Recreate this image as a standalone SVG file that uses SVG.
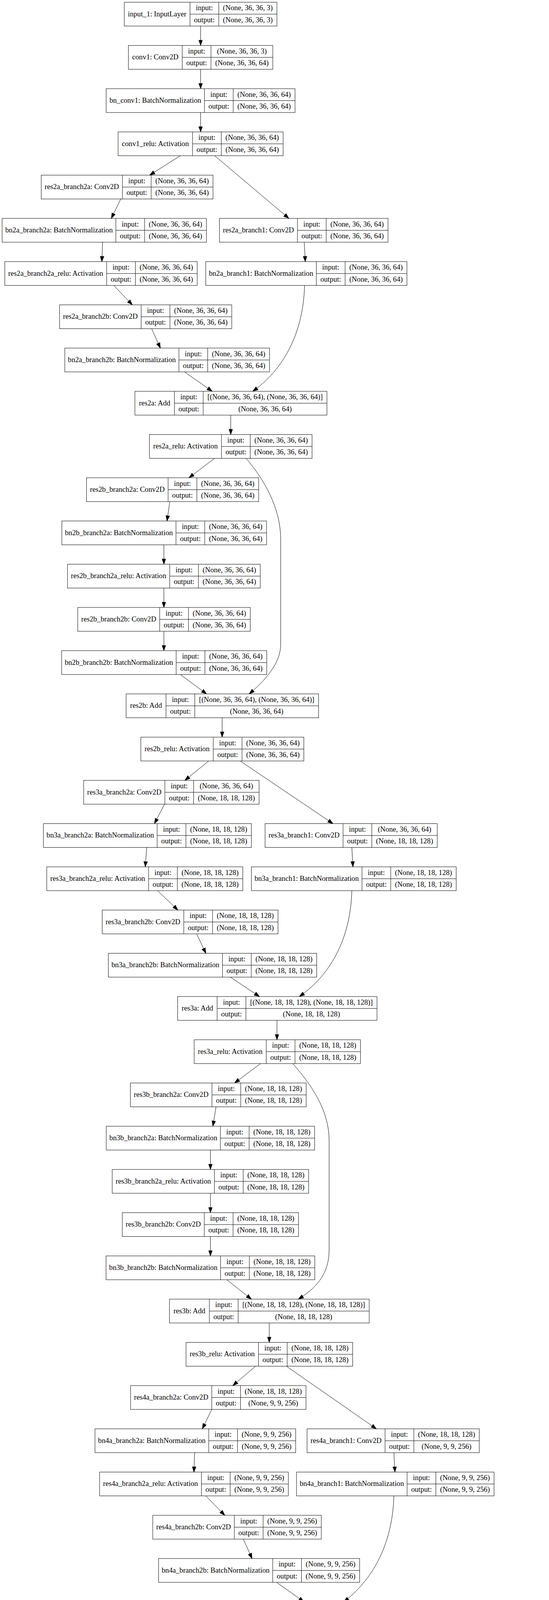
<svg xmlns="http://www.w3.org/2000/svg" width="1405" height="6824" viewBox="0 0 1405 6824">
<style>
.node rect{fill:#fff;stroke:#000;stroke-width:1}
.node path{fill:none;stroke:#000;stroke-width:1}
text{font-family:"Liberation Serif","Times New Roman",serif;font-size:18.67px;text-anchor:middle;fill:#000}
.edges path{fill:none;stroke:#000;stroke-width:1;marker-end:url(#arr)}
</style>
<defs>
<marker id="arr" markerUnits="userSpaceOnUse" markerWidth="16" markerHeight="12" refX="13.33" refY="4.67" orient="auto" overflow="visible"><path d="M0,0L13.33,4.67L0,9.33Z" fill="#000" stroke="#000" stroke-width="1"/></marker>
</defs>
<rect width="1405" height="6824" fill="#fff"/>
<g id="nodes">
<g id="input_1" class="node" transform="translate(318.05,5.7)"><rect width="390.7" height="61"/><path d="M168.2,0V61M241.8,0V61M168.2,30.5H390.7"/><text x="84.1" y="36">input_1: InputLayer</text><text x="205" y="20.5">input:</text><text x="205" y="51">output:</text><text x="316.25" y="20.5">(None, 36, 36, 3)</text><text x="316.25" y="51">(None, 36, 36, 3)</text></g>
<g id="conv1" class="node" transform="translate(328.65,116.37)"><rect width="369.5" height="61"/><path d="M137.7,0V61M211.3,0V61M137.7,30.5H369.5"/><text x="68.85" y="36">conv1: Conv2D</text><text x="174.5" y="20.5">input:</text><text x="174.5" y="51">output:</text><text x="290.4" y="20.5">(None, 36, 36, 3)</text><text x="290.4" y="51">(None, 36, 36, 64)</text></g>
<g id="bn_conv1" class="node" transform="translate(271.75,227.04)"><rect width="483.3" height="61"/><path d="M251.5,0V61M325.1,0V61M251.5,30.5H483.3"/><text x="125.75" y="36">bn_conv1: BatchNormalization</text><text x="288.3" y="20.5">input:</text><text x="288.3" y="51">output:</text><text x="404.2" y="20.5">(None, 36, 36, 64)</text><text x="404.2" y="51">(None, 36, 36, 64)</text></g>
<g id="conv1_relu" class="node" transform="translate(302.25,337.71)"><rect width="422.3" height="61"/><path d="M190.5,0V61M264.1,0V61M190.5,30.5H422.3"/><text x="95.25" y="36">conv1_relu: Activation</text><text x="227.3" y="20.5">input:</text><text x="227.3" y="51">output:</text><text x="343.2" y="20.5">(None, 36, 36, 64)</text><text x="343.2" y="51">(None, 36, 36, 64)</text></g>
<g id="res2a_branch2a" class="node" transform="translate(105.5,448.38)"><rect width="439.6" height="61"/><path d="M207.8,0V61M281.4,0V61M207.8,30.5H439.6"/><text x="103.9" y="36">res2a_branch2a: Conv2D</text><text x="244.6" y="20.5">input:</text><text x="244.6" y="51">output:</text><text x="360.5" y="20.5">(None, 36, 36, 64)</text><text x="360.5" y="51">(None, 36, 36, 64)</text></g>
<g id="bn2a_branch2a" class="node" transform="translate(5.4,559.05)"><rect width="522.9" height="61"/><path d="M291.1,0V61M364.7,0V61M291.1,30.5H522.9"/><text x="145.55" y="36">bn2a_branch2a: BatchNormalization</text><text x="327.9" y="20.5">input:</text><text x="327.9" y="51">output:</text><text x="443.8" y="20.5">(None, 36, 36, 64)</text><text x="443.8" y="51">(None, 36, 36, 64)</text></g>
<g id="res2a_branch1" class="node" transform="translate(561.6,559.05)"><rect width="431.4" height="61"/><path d="M199.6,0V61M273.2,0V61M199.6,30.5H431.4"/><text x="99.8" y="36">res2a_branch1: Conv2D</text><text x="236.4" y="20.5">input:</text><text x="236.4" y="51">output:</text><text x="352.3" y="20.5">(None, 36, 36, 64)</text><text x="352.3" y="51">(None, 36, 36, 64)</text></g>
<g id="res2a_branch2a_relu" class="node" transform="translate(12.3,669.72)"><rect width="492.4" height="61"/><path d="M260.6,0V61M334.2,0V61M260.6,30.5H492.4"/><text x="130.3" y="36">res2a_branch2a_relu: Activation</text><text x="297.4" y="20.5">input:</text><text x="297.4" y="51">output:</text><text x="413.3" y="20.5">(None, 36, 36, 64)</text><text x="413.3" y="51">(None, 36, 36, 64)</text></g>
<g id="bn2a_branch1" class="node" transform="translate(526.6,669.72)"><rect width="514.8" height="61"/><path d="M283,0V61M356.6,0V61M283,30.5H514.8"/><text x="141.5" y="36">bn2a_branch1: BatchNormalization</text><text x="319.8" y="20.5">input:</text><text x="319.8" y="51">output:</text><text x="435.7" y="20.5">(None, 36, 36, 64)</text><text x="435.7" y="51">(None, 36, 36, 64)</text></g>
<g id="res2a_branch2b" class="node" transform="translate(152.5,780.39)"><rect width="440.6" height="61"/><path d="M208.8,0V61M282.4,0V61M208.8,30.5H440.6"/><text x="104.4" y="36">res2a_branch2b: Conv2D</text><text x="245.6" y="20.5">input:</text><text x="245.6" y="51">output:</text><text x="361.5" y="20.5">(None, 36, 36, 64)</text><text x="361.5" y="51">(None, 36, 36, 64)</text></g>
<g id="bn2a_branch2b" class="node" transform="translate(165.85,891.06)"><rect width="523.9" height="61"/><path d="M292.1,0V61M365.7,0V61M292.1,30.5H523.9"/><text x="146.05" y="36">bn2a_branch2b: BatchNormalization</text><text x="328.9" y="20.5">input:</text><text x="328.9" y="51">output:</text><text x="444.8" y="20.5">(None, 36, 36, 64)</text><text x="444.8" y="51">(None, 36, 36, 64)</text></g>
<g id="res2a" class="node" transform="translate(345.25,1001.73)"><rect width="491.5" height="61"/><path d="M101.1,0V61M174.7,0V61M101.1,30.5H491.5"/><text x="50.55" y="36">res2a: Add</text><text x="137.9" y="20.5">input:</text><text x="137.9" y="51">output:</text><text x="333.1" y="20.5">[(None, 36, 36, 64), (None, 36, 36, 64)]</text><text x="333.1" y="51">(None, 36, 36, 64)</text></g>
<g id="res2a_relu" class="node" transform="translate(382.4,1112.4)"><rect width="416.2" height="61"/><path d="M184.4,0V61M258,0V61M184.4,30.5H416.2"/><text x="92.2" y="36">res2a_relu: Activation</text><text x="221.2" y="20.5">input:</text><text x="221.2" y="51">output:</text><text x="337.1" y="20.5">(None, 36, 36, 64)</text><text x="337.1" y="51">(None, 36, 36, 64)</text></g>
<g id="res2b_branch2a" class="node" transform="translate(221.4,1223.07)"><rect width="440.6" height="61"/><path d="M208.8,0V61M282.4,0V61M208.8,30.5H440.6"/><text x="104.4" y="36">res2b_branch2a: Conv2D</text><text x="245.6" y="20.5">input:</text><text x="245.6" y="51">output:</text><text x="361.5" y="20.5">(None, 36, 36, 64)</text><text x="361.5" y="51">(None, 36, 36, 64)</text></g>
<g id="bn2b_branch2a" class="node" transform="translate(158.25,1333.74)"><rect width="523.9" height="61"/><path d="M292.1,0V61M365.7,0V61M292.1,30.5H523.9"/><text x="146.05" y="36">bn2b_branch2a: BatchNormalization</text><text x="328.9" y="20.5">input:</text><text x="328.9" y="51">output:</text><text x="444.8" y="20.5">(None, 36, 36, 64)</text><text x="444.8" y="51">(None, 36, 36, 64)</text></g>
<g id="res2b_branch2a_relu" class="node" transform="translate(172.7,1444.41)"><rect width="493.4" height="61"/><path d="M261.6,0V61M335.2,0V61M261.6,30.5H493.4"/><text x="130.8" y="36">res2b_branch2a_relu: Activation</text><text x="298.4" y="20.5">input:</text><text x="298.4" y="51">output:</text><text x="414.3" y="20.5">(None, 36, 36, 64)</text><text x="414.3" y="51">(None, 36, 36, 64)</text></g>
<g id="res2b_branch2b" class="node" transform="translate(198.9,1555.08)"><rect width="441.6" height="61"/><path d="M209.8,0V61M283.4,0V61M209.8,30.5H441.6"/><text x="104.9" y="36">res2b_branch2b: Conv2D</text><text x="246.6" y="20.5">input:</text><text x="246.6" y="51">output:</text><text x="362.5" y="20.5">(None, 36, 36, 64)</text><text x="362.5" y="51">(None, 36, 36, 64)</text></g>
<g id="bn2b_branch2b" class="node" transform="translate(157.75,1665.75)"><rect width="524.9" height="61"/><path d="M293.1,0V61M366.7,0V61M293.1,30.5H524.9"/><text x="146.55" y="36">bn2b_branch2b: BatchNormalization</text><text x="329.9" y="20.5">input:</text><text x="329.9" y="51">output:</text><text x="445.8" y="20.5">(None, 36, 36, 64)</text><text x="445.8" y="51">(None, 36, 36, 64)</text></g>
<g id="res2b" class="node" transform="translate(322.75,1776.42)"><rect width="492.5" height="61"/><path d="M102.1,0V61M175.7,0V61M102.1,30.5H492.5"/><text x="51.05" y="36">res2b: Add</text><text x="138.9" y="20.5">input:</text><text x="138.9" y="51">output:</text><text x="334.1" y="20.5">[(None, 36, 36, 64), (None, 36, 36, 64)]</text><text x="334.1" y="51">(None, 36, 36, 64)</text></g>
<g id="res2b_relu" class="node" transform="translate(360.4,1887.09)"><rect width="417.2" height="61"/><path d="M185.4,0V61M259,0V61M185.4,30.5H417.2"/><text x="92.7" y="36">res2b_relu: Activation</text><text x="222.2" y="20.5">input:</text><text x="222.2" y="51">output:</text><text x="338.1" y="20.5">(None, 36, 36, 64)</text><text x="338.1" y="51">(None, 36, 36, 64)</text></g>
<g id="res3a_branch2a" class="node" transform="translate(214.15,1997.76)"><rect width="448.9" height="61"/><path d="M207.8,0V61M281.4,0V61M207.8,30.5H448.9"/><text x="103.9" y="36">res3a_branch2a: Conv2D</text><text x="244.6" y="20.5">input:</text><text x="244.6" y="51">output:</text><text x="365.15" y="20.5">(None, 36, 36, 64)</text><text x="365.15" y="51">(None, 18, 18, 128)</text></g>
<g id="bn3a_branch2a" class="node" transform="translate(111.1,2108.43)"><rect width="532.2" height="61"/><path d="M291.1,0V61M364.7,0V61M291.1,30.5H532.2"/><text x="145.55" y="36">bn3a_branch2a: BatchNormalization</text><text x="327.9" y="20.5">input:</text><text x="327.9" y="51">output:</text><text x="448.45" y="20.5">(None, 18, 18, 128)</text><text x="448.45" y="51">(None, 18, 18, 128)</text></g>
<g id="res3a_branch1" class="node" transform="translate(678.35,2108.43)"><rect width="440.7" height="61"/><path d="M199.6,0V61M273.2,0V61M199.6,30.5H440.7"/><text x="99.8" y="36">res3a_branch1: Conv2D</text><text x="236.4" y="20.5">input:</text><text x="236.4" y="51">output:</text><text x="356.95" y="20.5">(None, 36, 36, 64)</text><text x="356.95" y="51">(None, 18, 18, 128)</text></g>
<g id="res3a_branch2a_relu" class="node" transform="translate(119.65,2219.1)"><rect width="501.7" height="61"/><path d="M260.6,0V61M334.2,0V61M260.6,30.5H501.7"/><text x="130.3" y="36">res3a_branch2a_relu: Activation</text><text x="297.4" y="20.5">input:</text><text x="297.4" y="51">output:</text><text x="417.95" y="20.5">(None, 18, 18, 128)</text><text x="417.95" y="51">(None, 18, 18, 128)</text></g>
<g id="bn3a_branch1" class="node" transform="translate(643.35,2219.1)"><rect width="524.1" height="61"/><path d="M283,0V61M356.6,0V61M283,30.5H524.1"/><text x="141.5" y="36">bn3a_branch1: BatchNormalization</text><text x="319.8" y="20.5">input:</text><text x="319.8" y="51">output:</text><text x="440.35" y="20.5">(None, 18, 18, 128)</text><text x="440.35" y="51">(None, 18, 18, 128)</text></g>
<g id="res3a_branch2b" class="node" transform="translate(261.55,2329.77)"><rect width="449.9" height="61"/><path d="M208.8,0V61M282.4,0V61M208.8,30.5H449.9"/><text x="104.4" y="36">res3a_branch2b: Conv2D</text><text x="245.6" y="20.5">input:</text><text x="245.6" y="51">output:</text><text x="366.15" y="20.5">(None, 18, 18, 128)</text><text x="366.15" y="51">(None, 18, 18, 128)</text></g>
<g id="bn3a_branch2b" class="node" transform="translate(277.3,2440.44)"><rect width="533.2" height="61"/><path d="M292.1,0V61M365.7,0V61M292.1,30.5H533.2"/><text x="146.05" y="36">bn3a_branch2b: BatchNormalization</text><text x="328.9" y="20.5">input:</text><text x="328.9" y="51">output:</text><text x="449.45" y="20.5">(None, 18, 18, 128)</text><text x="449.45" y="51">(None, 18, 18, 128)</text></g>
<g id="res3a" class="node" transform="translate(454.6,2551.11)"><rect width="510.2" height="61"/><path d="M101.1,0V61M174.7,0V61M101.1,30.5H510.2"/><text x="50.55" y="36">res3a: Add</text><text x="137.9" y="20.5">input:</text><text x="137.9" y="51">output:</text><text x="342.45" y="20.5">[(None, 18, 18, 128), (None, 18, 18, 128)]</text><text x="342.45" y="51">(None, 18, 18, 128)</text></g>
<g id="res3a_relu" class="node" transform="translate(496.95,2661.78)"><rect width="425.5" height="61"/><path d="M184.4,0V61M258,0V61M184.4,30.5H425.5"/><text x="92.2" y="36">res3a_relu: Activation</text><text x="221.2" y="20.5">input:</text><text x="221.2" y="51">output:</text><text x="341.75" y="20.5">(None, 18, 18, 128)</text><text x="341.75" y="51">(None, 18, 18, 128)</text></g>
<g id="res3b_branch2a" class="node" transform="translate(333.65,2772.45)"><rect width="449.9" height="61"/><path d="M208.8,0V61M282.4,0V61M208.8,30.5H449.9"/><text x="104.4" y="36">res3b_branch2a: Conv2D</text><text x="245.6" y="20.5">input:</text><text x="245.6" y="51">output:</text><text x="366.15" y="20.5">(None, 18, 18, 128)</text><text x="366.15" y="51">(None, 18, 18, 128)</text></g>
<g id="bn3b_branch2a" class="node" transform="translate(271.9,2883.12)"><rect width="533.2" height="61"/><path d="M292.1,0V61M365.7,0V61M292.1,30.5H533.2"/><text x="146.05" y="36">bn3b_branch2a: BatchNormalization</text><text x="328.9" y="20.5">input:</text><text x="328.9" y="51">output:</text><text x="449.45" y="20.5">(None, 18, 18, 128)</text><text x="449.45" y="51">(None, 18, 18, 128)</text></g>
<g id="res3b_branch2a_relu" class="node" transform="translate(287.15,2993.79)"><rect width="502.7" height="61"/><path d="M261.6,0V61M335.2,0V61M261.6,30.5H502.7"/><text x="130.8" y="36">res3b_branch2a_relu: Activation</text><text x="298.4" y="20.5">input:</text><text x="298.4" y="51">output:</text><text x="418.95" y="20.5">(None, 18, 18, 128)</text><text x="418.95" y="51">(None, 18, 18, 128)</text></g>
<g id="res3b_branch2b" class="node" transform="translate(313.05,3104.46)"><rect width="450.9" height="61"/><path d="M209.8,0V61M283.4,0V61M209.8,30.5H450.9"/><text x="104.9" y="36">res3b_branch2b: Conv2D</text><text x="246.6" y="20.5">input:</text><text x="246.6" y="51">output:</text><text x="367.15" y="20.5">(None, 18, 18, 128)</text><text x="367.15" y="51">(None, 18, 18, 128)</text></g>
<g id="bn3b_branch2b" class="node" transform="translate(271.4,3215.13)"><rect width="534.2" height="61"/><path d="M293.1,0V61M366.7,0V61M293.1,30.5H534.2"/><text x="146.55" y="36">bn3b_branch2b: BatchNormalization</text><text x="329.9" y="20.5">input:</text><text x="329.9" y="51">output:</text><text x="450.45" y="20.5">(None, 18, 18, 128)</text><text x="450.45" y="51">(None, 18, 18, 128)</text></g>
<g id="res3b" class="node" transform="translate(433.7,3325.8)"><rect width="511.2" height="61"/><path d="M102.1,0V61M175.7,0V61M102.1,30.5H511.2"/><text x="51.05" y="36">res3b: Add</text><text x="138.9" y="20.5">input:</text><text x="138.9" y="51">output:</text><text x="343.45" y="20.5">[(None, 18, 18, 128), (None, 18, 18, 128)]</text><text x="343.45" y="51">(None, 18, 18, 128)</text></g>
<g id="res3b_relu" class="node" transform="translate(476.05,3436.47)"><rect width="426.5" height="61"/><path d="M185.4,0V61M259,0V61M185.4,30.5H426.5"/><text x="92.7" y="36">res3b_relu: Activation</text><text x="222.2" y="20.5">input:</text><text x="222.2" y="51">output:</text><text x="342.75" y="20.5">(None, 18, 18, 128)</text><text x="342.75" y="51">(None, 18, 18, 128)</text></g>
<g id="res4a_branch2a" class="node" transform="translate(334.15,3547.14)"><rect width="448.9" height="61"/><path d="M207.8,0V61M281.4,0V61M207.8,30.5H448.9"/><text x="103.9" y="36">res4a_branch2a: Conv2D</text><text x="244.6" y="20.5">input:</text><text x="244.6" y="51">output:</text><text x="365.15" y="20.5">(None, 18, 18, 128)</text><text x="365.15" y="51">(None, 9, 9, 256)</text></g>
<g id="bn4a_branch2a" class="node" transform="translate(243.1,3657.81)"><rect width="513.6" height="61"/><path d="M291.1,0V61M364.7,0V61M291.1,30.5H513.6"/><text x="145.55" y="36">bn4a_branch2a: BatchNormalization</text><text x="327.9" y="20.5">input:</text><text x="327.9" y="51">output:</text><text x="439.15" y="20.5">(None, 9, 9, 256)</text><text x="439.15" y="51">(None, 9, 9, 256)</text></g>
<g id="res4a_branch1" class="node" transform="translate(785.85,3657.81)"><rect width="440.7" height="61"/><path d="M199.6,0V61M273.2,0V61M199.6,30.5H440.7"/><text x="99.8" y="36">res4a_branch1: Conv2D</text><text x="236.4" y="20.5">input:</text><text x="236.4" y="51">output:</text><text x="356.95" y="20.5">(None, 18, 18, 128)</text><text x="356.95" y="51">(None, 9, 9, 256)</text></g>
<g id="res4a_branch2a_relu" class="node" transform="translate(254.85,3768.48)"><rect width="483.1" height="61"/><path d="M260.6,0V61M334.2,0V61M260.6,30.5H483.1"/><text x="130.3" y="36">res4a_branch2a_relu: Activation</text><text x="297.4" y="20.5">input:</text><text x="297.4" y="51">output:</text><text x="408.65" y="20.5">(None, 9, 9, 256)</text><text x="408.65" y="51">(None, 9, 9, 256)</text></g>
<g id="bn4a_branch1" class="node" transform="translate(758.85,3768.48)"><rect width="505.5" height="61"/><path d="M283,0V61M356.6,0V61M283,30.5H505.5"/><text x="141.5" y="36">bn4a_branch1: BatchNormalization</text><text x="319.8" y="20.5">input:</text><text x="319.8" y="51">output:</text><text x="431.05" y="20.5">(None, 9, 9, 256)</text><text x="431.05" y="51">(None, 9, 9, 256)</text></g>
<g id="res4a_branch2b" class="node" transform="translate(390.95,3879.15)"><rect width="431.3" height="61"/><path d="M208.8,0V61M282.4,0V61M208.8,30.5H431.3"/><text x="104.4" y="36">res4a_branch2b: Conv2D</text><text x="245.6" y="20.5">input:</text><text x="245.6" y="51">output:</text><text x="356.85" y="20.5">(None, 9, 9, 256)</text><text x="356.85" y="51">(None, 9, 9, 256)</text></g>
<g id="bn4a_branch2b" class="node" transform="translate(405.8,3989.82)"><rect width="514.6" height="61"/><path d="M292.1,0V61M365.7,0V61M292.1,30.5H514.6"/><text x="146.05" y="36">bn4a_branch2b: BatchNormalization</text><text x="328.9" y="20.5">input:</text><text x="328.9" y="51">output:</text><text x="440.15" y="20.5">(None, 9, 9, 256)</text><text x="440.15" y="51">(None, 9, 9, 256)</text></g>
<g id="res4a" class="node" transform="translate(586.15,4100.49)"><rect width="472.9" height="61"/><path d="M101.1,0V61M174.7,0V61M101.1,30.5H472.9"/><text x="50.55" y="36">res4a: Add</text><text x="137.9" y="20.5">input:</text><text x="137.9" y="51">output:</text><text x="323.8" y="20.5">[(None, 9, 9, 256), (None, 9, 9, 256)]</text><text x="323.8" y="51">(None, 9, 9, 256)</text></g>
<g id="res4a_relu" class="node" transform="translate(619.15,4211.16)"><rect width="406.9" height="61"/><path d="M184.4,0V61M258,0V61M184.4,30.5H406.9"/><text x="92.2" y="36">res4a_relu: Activation</text><text x="221.2" y="20.5">input:</text><text x="221.2" y="51">output:</text><text x="332.45" y="20.5">(None, 9, 9, 256)</text><text x="332.45" y="51">(None, 9, 9, 256)</text></g>
<g id="res4b_branch2a" class="node" transform="translate(481.45,4321.83)"><rect width="431.3" height="61"/><path d="M208.8,0V61M282.4,0V61M208.8,30.5H431.3"/><text x="104.4" y="36">res4b_branch2a: Conv2D</text><text x="245.6" y="20.5">input:</text><text x="245.6" y="51">output:</text><text x="356.85" y="20.5">(None, 9, 9, 256)</text><text x="356.85" y="51">(None, 9, 9, 256)</text></g>
<g id="bn4b_branch2a" class="node" transform="translate(418.5,4432.5)"><rect width="514.6" height="61"/><path d="M292.1,0V61M365.7,0V61M292.1,30.5H514.6"/><text x="146.05" y="36">bn4b_branch2a: BatchNormalization</text><text x="328.9" y="20.5">input:</text><text x="328.9" y="51">output:</text><text x="440.15" y="20.5">(None, 9, 9, 256)</text><text x="440.15" y="51">(None, 9, 9, 256)</text></g>
<g id="res4b_branch2a_relu" class="node" transform="translate(433.75,4543.17)"><rect width="484.1" height="61"/><path d="M261.6,0V61M335.2,0V61M261.6,30.5H484.1"/><text x="130.8" y="36">res4b_branch2a_relu: Activation</text><text x="298.4" y="20.5">input:</text><text x="298.4" y="51">output:</text><text x="409.65" y="20.5">(None, 9, 9, 256)</text><text x="409.65" y="51">(None, 9, 9, 256)</text></g>
<g id="res4b_branch2b" class="node" transform="translate(459.65,4653.84)"><rect width="432.3" height="61"/><path d="M209.8,0V61M283.4,0V61M209.8,30.5H432.3"/><text x="104.9" y="36">res4b_branch2b: Conv2D</text><text x="246.6" y="20.5">input:</text><text x="246.6" y="51">output:</text><text x="357.85" y="20.5">(None, 9, 9, 256)</text><text x="357.85" y="51">(None, 9, 9, 256)</text></g>
<g id="bn4b_branch2b" class="node" transform="translate(418,4764.51)"><rect width="515.6" height="61"/><path d="M293.1,0V61M366.7,0V61M293.1,30.5H515.6"/><text x="146.55" y="36">bn4b_branch2b: BatchNormalization</text><text x="329.9" y="20.5">input:</text><text x="329.9" y="51">output:</text><text x="441.15" y="20.5">(None, 9, 9, 256)</text><text x="441.15" y="51">(None, 9, 9, 256)</text></g>
<g id="res4b" class="node" transform="translate(585.65,4875.18)"><rect width="473.9" height="61"/><path d="M102.1,0V61M175.7,0V61M102.1,30.5H473.9"/><text x="51.05" y="36">res4b: Add</text><text x="138.9" y="20.5">input:</text><text x="138.9" y="51">output:</text><text x="324.8" y="20.5">[(None, 9, 9, 256), (None, 9, 9, 256)]</text><text x="324.8" y="51">(None, 9, 9, 256)</text></g>
<g id="res4b_relu" class="node" transform="translate(618.65,4985.85)"><rect width="407.9" height="61"/><path d="M185.4,0V61M259,0V61M185.4,30.5H407.9"/><text x="92.7" y="36">res4b_relu: Activation</text><text x="222.2" y="20.5">input:</text><text x="222.2" y="51">output:</text><text x="333.45" y="20.5">(None, 9, 9, 256)</text><text x="333.45" y="51">(None, 9, 9, 256)</text></g>
<g id="res5a_branch2a" class="node" transform="translate(481.95,5096.52)"><rect width="430.3" height="61"/><path d="M207.8,0V61M281.4,0V61M207.8,30.5H430.3"/><text x="103.9" y="36">res5a_branch2a: Conv2D</text><text x="244.6" y="20.5">input:</text><text x="244.6" y="51">output:</text><text x="355.85" y="20.5">(None, 9, 9, 256)</text><text x="355.85" y="51">(None, 5, 5, 512)</text></g>
<g id="bn5a_branch2a" class="node" transform="translate(382,5207.19)"><rect width="513.6" height="61"/><path d="M291.1,0V61M364.7,0V61M291.1,30.5H513.6"/><text x="145.55" y="36">bn5a_branch2a: BatchNormalization</text><text x="327.9" y="20.5">input:</text><text x="327.9" y="51">output:</text><text x="439.15" y="20.5">(None, 5, 5, 512)</text><text x="439.15" y="51">(None, 5, 5, 512)</text></g>
<g id="res5a_branch1" class="node" transform="translate(930.35,5207.19)"><rect width="422.1" height="61"/><path d="M199.6,0V61M273.2,0V61M199.6,30.5H422.1"/><text x="99.8" y="36">res5a_branch1: Conv2D</text><text x="236.4" y="20.5">input:</text><text x="236.4" y="51">output:</text><text x="347.65" y="20.5">(None, 9, 9, 256)</text><text x="347.65" y="51">(None, 5, 5, 512)</text></g>
<g id="res5a_branch2a_relu" class="node" transform="translate(390.65,5317.86)"><rect width="483.1" height="61"/><path d="M260.6,0V61M334.2,0V61M260.6,30.5H483.1"/><text x="130.3" y="36">res5a_branch2a_relu: Activation</text><text x="297.4" y="20.5">input:</text><text x="297.4" y="51">output:</text><text x="408.65" y="20.5">(None, 5, 5, 512)</text><text x="408.65" y="51">(None, 5, 5, 512)</text></g>
<g id="bn5a_branch1" class="node" transform="translate(894.2,5317.86)"><rect width="505.5" height="61"/><path d="M283,0V61M356.6,0V61M283,30.5H505.5"/><text x="141.5" y="36">bn5a_branch1: BatchNormalization</text><text x="319.8" y="20.5">input:</text><text x="319.8" y="51">output:</text><text x="431.05" y="20.5">(None, 5, 5, 512)</text><text x="431.05" y="51">(None, 5, 5, 512)</text></g>
<g id="res5a_branch2b" class="node" transform="translate(527.15,5428.53)"><rect width="431.3" height="61"/><path d="M208.8,0V61M282.4,0V61M208.8,30.5H431.3"/><text x="104.4" y="36">res5a_branch2b: Conv2D</text><text x="245.6" y="20.5">input:</text><text x="245.6" y="51">output:</text><text x="356.85" y="20.5">(None, 5, 5, 512)</text><text x="356.85" y="51">(None, 5, 5, 512)</text></g>
<g id="bn5a_branch2b" class="node" transform="translate(541.5,5539.2)"><rect width="514.6" height="61"/><path d="M292.1,0V61M365.7,0V61M292.1,30.5H514.6"/><text x="146.05" y="36">bn5a_branch2b: BatchNormalization</text><text x="328.9" y="20.5">input:</text><text x="328.9" y="51">output:</text><text x="440.15" y="20.5">(None, 5, 5, 512)</text><text x="440.15" y="51">(None, 5, 5, 512)</text></g>
<g id="res5a" class="node" transform="translate(722.25,5649.87)"><rect width="472.9" height="61"/><path d="M101.1,0V61M174.7,0V61M101.1,30.5H472.9"/><text x="50.55" y="36">res5a: Add</text><text x="137.9" y="20.5">input:</text><text x="137.9" y="51">output:</text><text x="323.8" y="20.5">[(None, 5, 5, 512), (None, 5, 5, 512)]</text><text x="323.8" y="51">(None, 5, 5, 512)</text></g>
<g id="res5a_relu" class="node" transform="translate(755.25,5760.54)"><rect width="406.9" height="61"/><path d="M184.4,0V61M258,0V61M184.4,30.5H406.9"/><text x="92.2" y="36">res5a_relu: Activation</text><text x="221.2" y="20.5">input:</text><text x="221.2" y="51">output:</text><text x="332.45" y="20.5">(None, 5, 5, 512)</text><text x="332.45" y="51">(None, 5, 5, 512)</text></g>
<g id="res5b_branch2a" class="node" transform="translate(596.15,5871.21)"><rect width="431.3" height="61"/><path d="M208.8,0V61M282.4,0V61M208.8,30.5H431.3"/><text x="104.4" y="36">res5b_branch2a: Conv2D</text><text x="245.6" y="20.5">input:</text><text x="245.6" y="51">output:</text><text x="356.85" y="20.5">(None, 5, 5, 512)</text><text x="356.85" y="51">(None, 5, 5, 512)</text></g>
<g id="bn5b_branch2a" class="node" transform="translate(534.7,5981.88)"><rect width="514.6" height="61"/><path d="M292.1,0V61M365.7,0V61M292.1,30.5H514.6"/><text x="146.05" y="36">bn5b_branch2a: BatchNormalization</text><text x="328.9" y="20.5">input:</text><text x="328.9" y="51">output:</text><text x="440.15" y="20.5">(None, 5, 5, 512)</text><text x="440.15" y="51">(None, 5, 5, 512)</text></g>
<g id="res5b_branch2a_relu" class="node" transform="translate(549.95,6092.55)"><rect width="484.1" height="61"/><path d="M261.6,0V61M335.2,0V61M261.6,30.5H484.1"/><text x="130.8" y="36">res5b_branch2a_relu: Activation</text><text x="298.4" y="20.5">input:</text><text x="298.4" y="51">output:</text><text x="409.65" y="20.5">(None, 5, 5, 512)</text><text x="409.65" y="51">(None, 5, 5, 512)</text></g>
<g id="res5b_branch2b" class="node" transform="translate(575.85,6203.22)"><rect width="432.3" height="61"/><path d="M209.8,0V61M283.4,0V61M209.8,30.5H432.3"/><text x="104.9" y="36">res5b_branch2b: Conv2D</text><text x="246.6" y="20.5">input:</text><text x="246.6" y="51">output:</text><text x="357.85" y="20.5">(None, 5, 5, 512)</text><text x="357.85" y="51">(None, 5, 5, 512)</text></g>
<g id="bn5b_branch2b" class="node" transform="translate(534.2,6313.89)"><rect width="515.6" height="61"/><path d="M293.1,0V61M366.7,0V61M293.1,30.5H515.6"/><text x="146.55" y="36">bn5b_branch2b: BatchNormalization</text><text x="329.9" y="20.5">input:</text><text x="329.9" y="51">output:</text><text x="441.15" y="20.5">(None, 5, 5, 512)</text><text x="441.15" y="51">(None, 5, 5, 512)</text></g>
<g id="res5b" class="node" transform="translate(701.45,6424.56)"><rect width="473.9" height="61"/><path d="M102.1,0V61M175.7,0V61M102.1,30.5H473.9"/><text x="51.05" y="36">res5b: Add</text><text x="138.9" y="20.5">input:</text><text x="138.9" y="51">output:</text><text x="324.8" y="20.5">[(None, 5, 5, 512), (None, 5, 5, 512)]</text><text x="324.8" y="51">(None, 5, 5, 512)</text></g>
<g id="res5b_relu" class="node" transform="translate(734.45,6535.23)"><rect width="407.9" height="61"/><path d="M185.4,0V61M259,0V61M185.4,30.5H407.9"/><text x="92.7" y="36">res5b_relu: Activation</text><text x="222.2" y="20.5">input:</text><text x="222.2" y="51">output:</text><text x="333.45" y="20.5">(None, 5, 5, 512)</text><text x="333.45" y="51">(None, 5, 5, 512)</text></g>
<g id="pool5" class="node" transform="translate(695.3,6645.9)"><rect width="486.2" height="61"/><path d="M263.7,0V61M337.3,0V61M263.7,30.5H486.2"/><text x="131.85" y="36">pool5: GlobalAveragePooling2D</text><text x="300.5" y="20.5">input:</text><text x="300.5" y="51">output:</text><text x="411.75" y="20.5">(None, 5, 5, 512)</text><text x="411.75" y="51">(None, 512)</text></g>
<g id="fc1000" class="node" transform="translate(782.1,6756.57)"><rect width="312.6" height="61"/><path d="M127.5,0V61M201.1,0V61M127.5,30.5H312.6"/><text x="63.75" y="36">fc1000: Dense</text><text x="164.3" y="20.5">input:</text><text x="164.3" y="51">output:</text><text x="256.85" y="20.5">(None, 512)</text><text x="256.85" y="51">(None, 4)</text></g>
</g>
<g id="edges" class="edges">
<path d="M513.4,66.7V116.37"/>
<path d="M513.4,177.37V227.04"/>
<path d="M513.4,288.04V337.71"/>
<path d="M461.2,398.71L383,448.38"/>
<path d="M549.5,398.71L739.2,559.05"/>
<path d="M309.1,509.38L284.9,559.05"/>
<path d="M778.6,620.05L781.3,669.72"/>
<path d="M262.6,620.05L260.7,669.72"/>
<path d="M291.2,730.72L338.7,780.39"/>
<path d="M388,841.39L410.4,891.06"/>
<path d="M472.2,952.06L543,1001.73"/>
<path d="M779.5,730.72C776,860 720,950 646.9,1001.73"/>
<path d="M590.5,1062.73V1112.4"/>
<path d="M549.2,1173.4L483.5,1223.07"/>
<path d="M629.8,1173.4C675,1226 718.3,1300 718.3,1380L718.3,1650C718.3,1700 675,1745 637.7,1776.42"/>
<path d="M434.6,1284.07L427.4,1333.74"/>
<path d="M419.4,1394.74V1444.41"/>
<path d="M419.4,1505.41V1555.08"/>
<path d="M419.4,1616.08V1665.75"/>
<path d="M461.4,1726.75L528.7,1776.42"/>
<path d="M568.5,1837.42V1887.09"/>
<path d="M534.1,1948.09L473.1,1997.76"/>
<path d="M614.6,1948.09L852.1,2108.43"/>
<path d="M421.1,2058.76L395.2,2108.43"/>
<path d="M375.5,2169.43L371.8,2219.1"/>
<path d="M900.4,2169.43L903.2,2219.1"/>
<path d="M403.2,2280.1L455.2,2329.77"/>
<path d="M503.4,2390.77L526.8,2440.44"/>
<path d="M900.4,2280.1C896.9,2409.4 840.9,2499.4 766.1,2551.11"/>
<path d="M589.6,2501.44L663.9,2551.11"/>
<path d="M708.8,2612.11V2661.78"/>
<path d="M666.6,2722.78L600.3,2772.45"/>
<path d="M749.1,2722.78C795,2775 842.3,2840 842.3,2920L842.3,3200C842.3,3265 805,3300 763.4,3325.8"/>
<path d="M552.9,2833.45L544.8,2883.12"/>
<path d="M538.5,2944.12V2993.79"/>
<path d="M538.5,3054.79V3104.46"/>
<path d="M538.5,3165.46V3215.13"/>
<path d="M580.6,3276.13L643.3,3325.8"/>
<path d="M689.1,3386.8V3436.47"/>
<path d="M654,3497.47L595.8,3547.14"/>
<path d="M732.9,3497.47L963.2,3657.81"/>
<path d="M542.1,3608.14L517.8,3657.81"/>
<path d="M1008,3718.81L1010.7,3768.48"/>
<path d="M498.1,3718.81L496.4,3768.48"/>
<path d="M526.8,3829.48L575.2,3879.15"/>
<path d="M622.7,3940.15L645.1,3989.82"/>
<path d="M707.9,4050.82L777.7,4100.49"/>
<path d="M1008,3829.48C1004.5,3958.8 948.5,4048.8 879.9,4100.49"/>
<path d="M821.8,4161.49V4211.16"/>
<path d="M788.5,4272.16L732.9,4321.83"/>
<path d="M873.5,4272.16C920,4325 969.4,4390 969.4,4470L969.4,4750C969.4,4815 932,4850 889.7,4875.18"/>
<path d="M690.9,4382.83L683.7,4432.5"/>
<path d="M675.5,4493.5V4543.17"/>
<path d="M675.5,4604.17V4653.84"/>
<path d="M675.5,4714.84V4764.51"/>
<path d="M716.8,4825.51L782.2,4875.18"/>
<path d="M821.8,4936.18V4985.85"/>
<path d="M788.5,5046.85L732.9,5096.52"/>
<path d="M864.6,5046.85L1095.8,5207.19"/>
<path d="M681,5157.52L656.7,5207.19"/>
<path d="M637,5268.19L634.3,5317.86"/>
<path d="M1143.3,5268.19L1146,5317.86"/>
<path d="M663,5378.86L711.4,5428.53"/>
<path d="M758.9,5489.53L781.3,5539.2"/>
<path d="M1143.3,5378.86C1139.8,5508.2 1083.8,5598.2 1015.2,5649.87"/>
<path d="M840.7,5600.2L913.9,5649.87"/>
<path d="M958.7,5710.87V5760.54"/>
<path d="M918.4,5821.54L853,5871.21"/>
<path d="M996.4,5821.54C1040,5872 1086,5940 1086,6020L1086,6300C1086,6365 1050,6400 1009.8,6424.56"/>
<path d="M806.4,5932.21L797.4,5981.88"/>
<path d="M792.1,6042.88V6092.55"/>
<path d="M792.1,6153.55V6203.22"/>
<path d="M792.1,6264.22V6313.89"/>
<path d="M833.3,6374.89L896,6424.56"/>
<path d="M938.1,6485.56V6535.23"/>
<path d="M938.1,6596.23V6645.9"/>
<path d="M938.1,6706.9V6756.57"/>
</g>
</svg>
